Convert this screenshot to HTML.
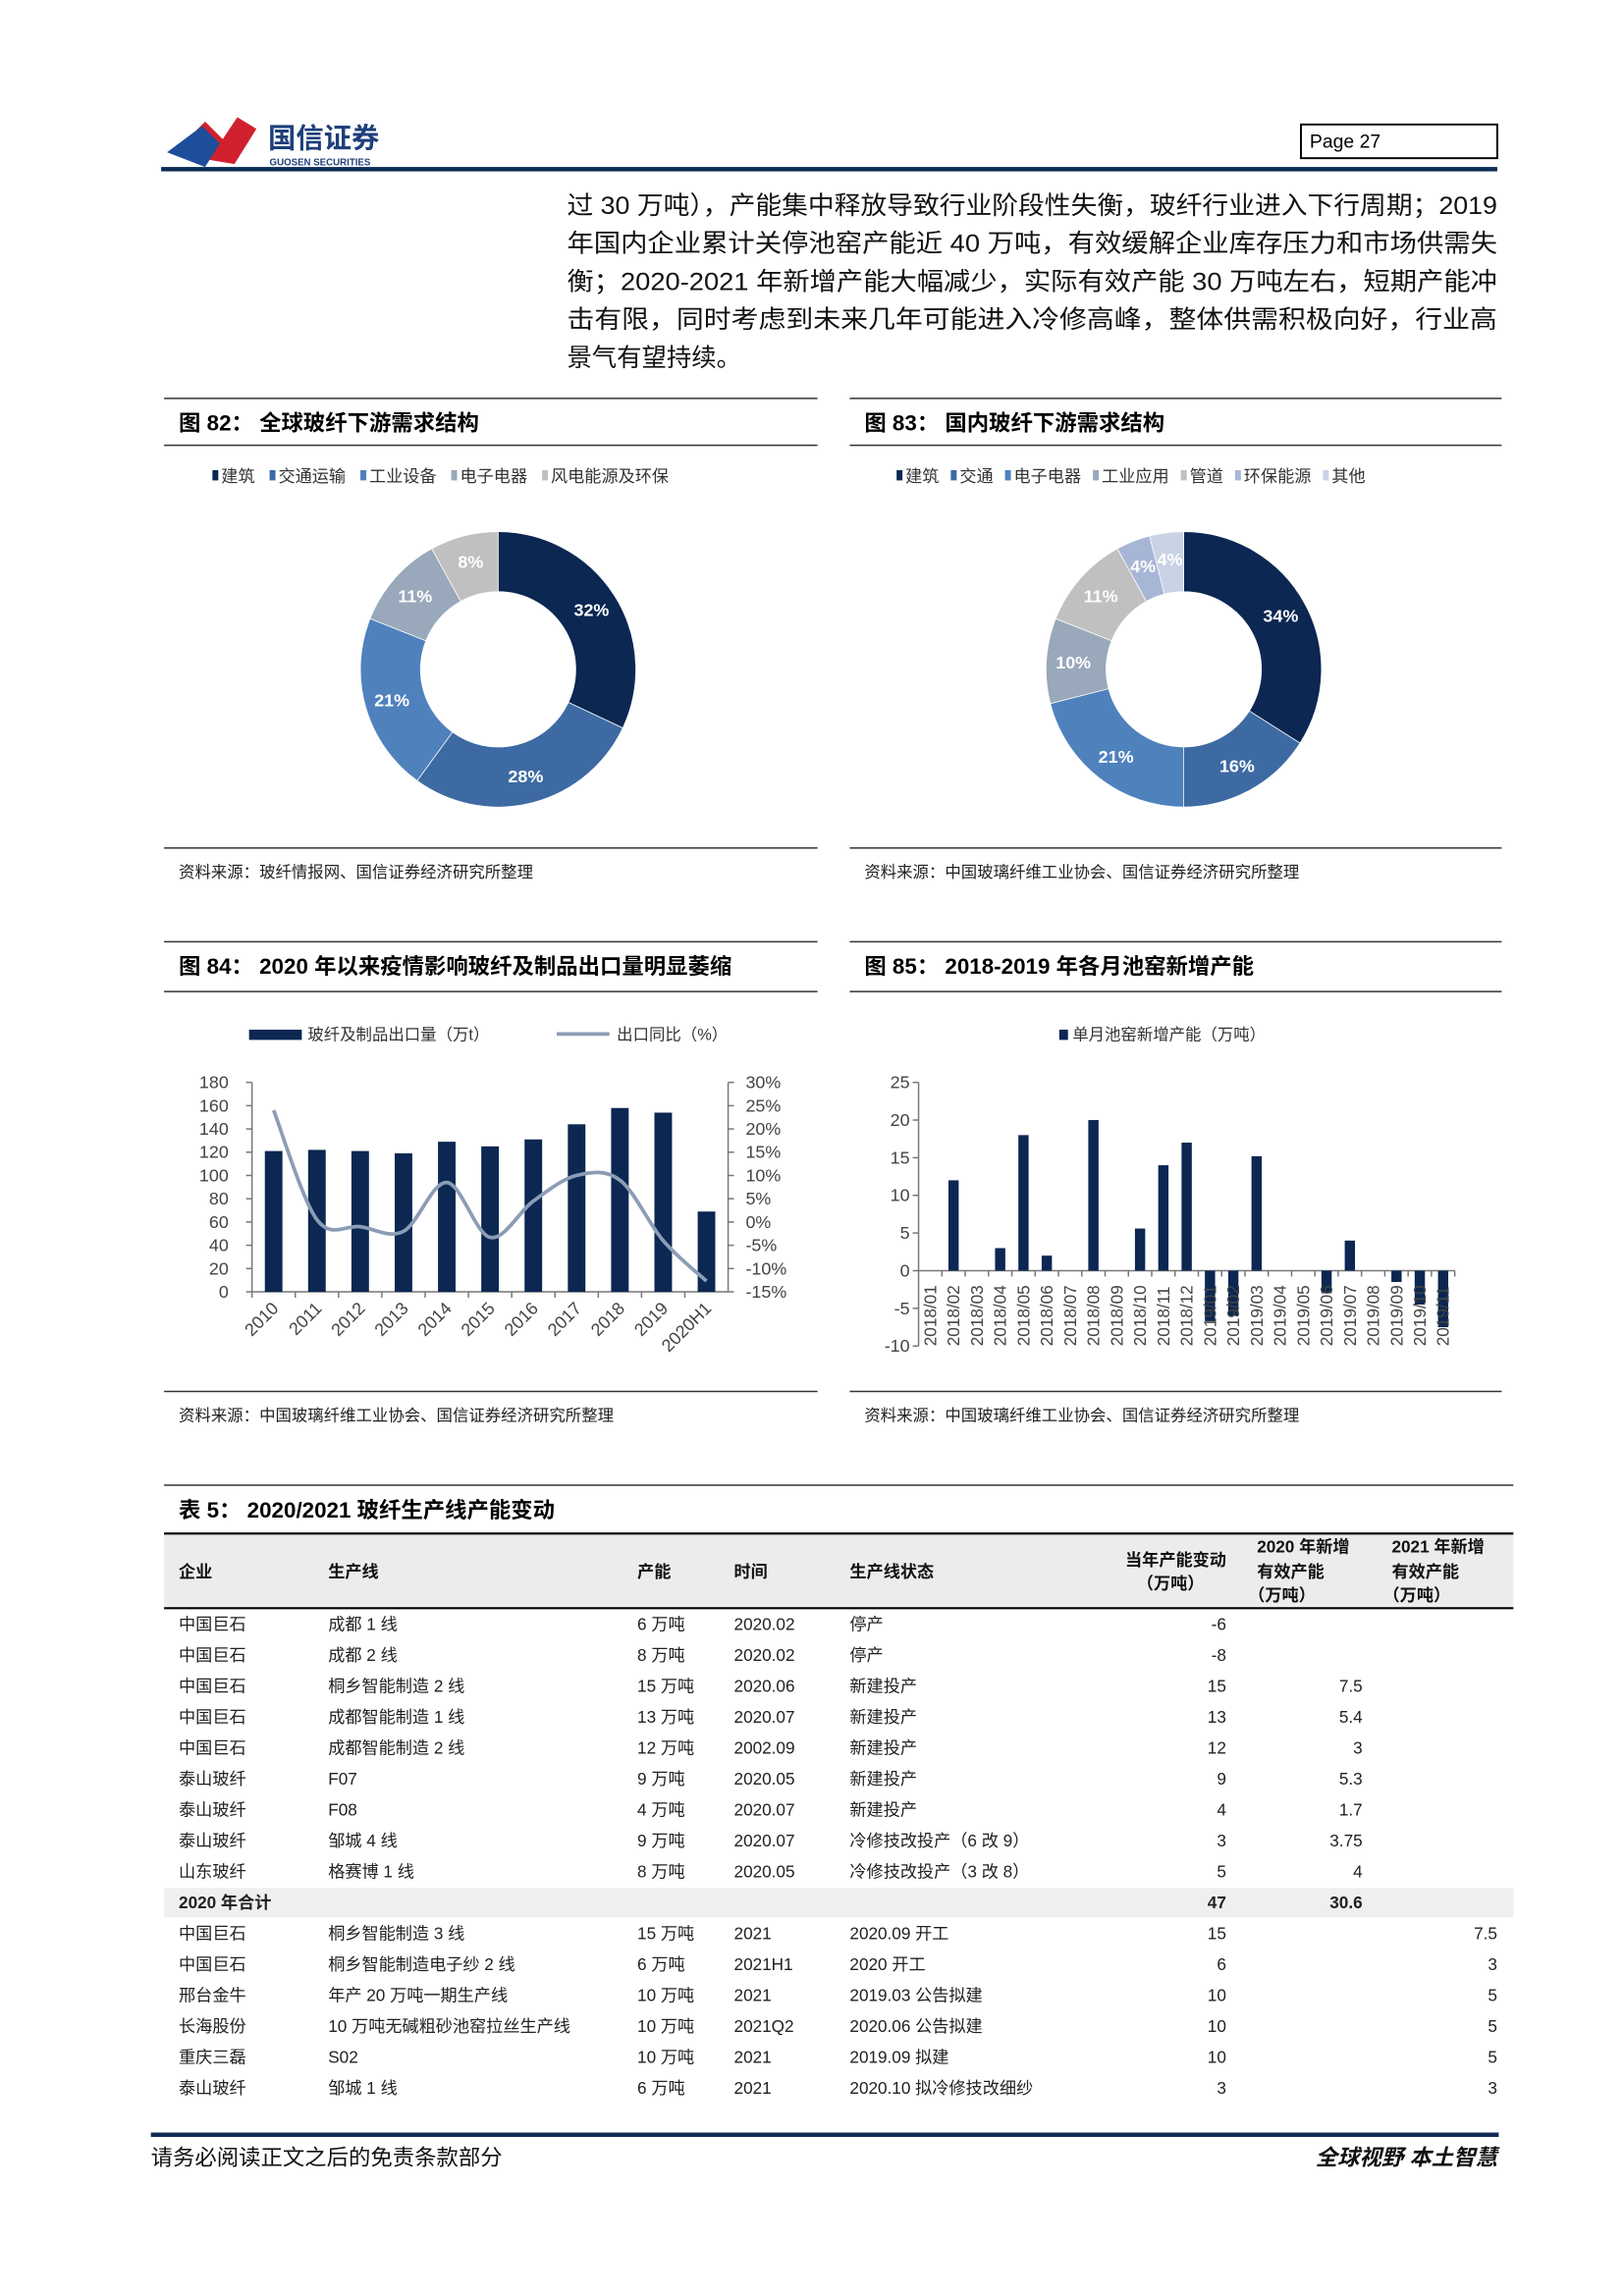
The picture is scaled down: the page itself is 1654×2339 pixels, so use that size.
<!DOCTYPE html>
<html><head><meta charset="utf-8">
<style>
html,body{margin:0;padding:0;background:#fff;}
svg{display:block;}
text{font-family:"Liberation Sans","Noto Sans CJK SC",sans-serif;}
</style></head>
<body>
<svg id="pg" width="1654" height="2339" viewBox="0 0 1108.5 1567.6" xmlns="http://www.w3.org/2000/svg">
<g>
  <path d="M118 105 L140 83 L152 95 L162 80 L175 88 L160 112 Z" fill="#d0202e"/>
  <path d="M114 104 L138 86 L150 98 L140 114 Z" fill="#1e4e9a"/>
  <text x="183" y="101" font-size="19" font-weight="bold" fill="#1e3f7a">国信证券</text>
  <text x="184" y="113" font-size="6.5" font-weight="bold" fill="#1e3f7a">GUOSEN SECURITIES</text>
  <rect x="110" y="114" width="912" height="3" fill="#0d2b55"/>
  <rect x="888" y="85" width="134" height="23" fill="none" stroke="#000" stroke-width="1.3"/>
  <text x="894" y="101" font-size="13" fill="#000">Page  27</text>
</g>
<g font-size="17" fill="#111">
  <text x="387" y="146" textLength="635" lengthAdjust="spacingAndGlyphs">过 30 万吨），产能集中释放导致行业阶段性失衡，玻纤行业进入下行周期；2019</text>
  <text x="387" y="172" textLength="635" lengthAdjust="spacingAndGlyphs">年国内企业累计关停池窑产能近 40 万吨，有效缓解企业库存压力和市场供需失</text>
  <text x="387" y="198" textLength="635" lengthAdjust="spacingAndGlyphs">衡；2020-2021 年新增产能大幅减少，实际有效产能 30 万吨左右，短期产能冲</text>
  <text x="387" y="224" textLength="635" lengthAdjust="spacingAndGlyphs">击有限，同时考虑到未来几年可能进入冷修高峰，整体供需积极向好，行业高</text>
  <text x="387" y="250">景气有望持续。</text>
</g>

<g stroke="#333" stroke-width="1">
  <line x1="112" y1="272" x2="558" y2="272"/><line x1="112" y1="304" x2="558" y2="304"/><line x1="112" y1="579" x2="558" y2="579"/>
  <line x1="580" y1="272" x2="1025" y2="272"/><line x1="580" y1="304" x2="1025" y2="304"/><line x1="580" y1="579" x2="1025" y2="579"/>
  <line x1="112" y1="643" x2="558" y2="643"/><line x1="112" y1="677" x2="558" y2="677"/><line x1="112" y1="950" x2="558" y2="950"/>
  <line x1="580" y1="643" x2="1025" y2="643"/><line x1="580" y1="677" x2="1025" y2="677"/><line x1="580" y1="950" x2="1025" y2="950"/>
</g>
<text x="122" y="294" font-size="15" font-weight="bold">图 82：  全球玻纤下游需求结构</text>
<text x="590" y="294" font-size="15" font-weight="bold">图 83：  国内玻纤下游需求结构</text>
<text x="122" y="665" font-size="15" font-weight="bold">图 84：  2020 年以来疫情影响玻纤及制品出口量明显萎缩</text>
<text x="590" y="665" font-size="15" font-weight="bold">图 85：  2018-2019 年各月池窑新增产能</text>
<text x="122" y="599" font-size="11" fill="#222">资料来源：玻纤情报网、国信证券经济研究所整理</text>
<text x="590" y="599" font-size="11" fill="#222">资料来源：中国玻璃纤维工业协会、国信证券经济研究所整理</text>
<text x="122" y="970" font-size="11" fill="#222">资料来源：中国玻璃纤维工业协会、国信证券经济研究所整理</text>
<text x="590" y="970" font-size="11" fill="#222">资料来源：中国玻璃纤维工业协会、国信证券经济研究所整理</text>

<g id="d82"></g>
<g id="d83"></g>
<g id="c84"></g>
<g id="c85"></g>

<line x1="112" y1="1014" x2="1033" y2="1014" stroke="#333" stroke-width="1"/>
<text x="122" y="1036" font-size="15" font-weight="bold">表 5：  2020/2021 玻纤生产线产能变动</text>
<g id="tbl"></g>

<g>
  <rect x="103" y="1456" width="920" height="3" fill="#0d2b55"/>
  <text x="103" y="1478" font-size="15" fill="#111">请务必阅读正文之后的免责条款部分</text>
  <text x="1022" y="1478" font-size="15" font-weight="bold" font-style="italic" text-anchor="end" fill="#111">全球视野  本土智慧</text>
</g>
</svg>
<script>
// ---- data ----
const d82Labels = ['建筑','交通运输','工业设备','电子电器','风电能源及环保'];
const d82Values = [32,28,21,11,8];
const d83Labels = ['建筑','交通','电子电器','工业应用','管道','环保能源','其他'];
const d83Values = [34,16,21,10,11,4,4];
const c84Cats = ['2010','2011','2012','2013','2014','2015','2016','2017','2018','2019','2020H1'];
const c84Bars = [121,122,121,119,129,125,131,144,158,154,69];
const c84Line = [24,0.5,-1,-2,8.5,-3.3,4.5,10,9,-4,-12.7];
const c84LeftTicks = [0,20,40,60,80,100,120,140,160,180];
const c84RightTicks = [-15,-10,-5,0,5,10,15,20,25,30];
const c85Cats = ['2018/01','2018/02','2018/03','2018/04','2018/05','2018/06','2018/07','2018/08','2018/09','2018/10','2018/11','2018/12','2019/01','2019/02','2019/03','2019/04','2019/05','2019/06','2019/07','2019/08','2019/09','2019/10','2019/11'];
const c85Values = [0,12,0,3,18,2,0,20,0,5.6,14,17,-6.7,-6,15.2,0,0,-3,4,0,-1.5,-4.5,-7.5];
const c85Ticks = [-10,-5,0,5,10,15,20,25];

const NS='http://www.w3.org/2000/svg';
function mk(tag,attrs,parent,txt){const e=document.createElementNS(NS,tag);for(const k in attrs)e.setAttribute(k,attrs[k]);if(txt!==undefined)e.textContent=txt;parent.appendChild(e);return e;}

function donut(gid,labels,values,colors,cx,cy,legX,legGap){
  const g=document.getElementById(gid);
  const R=94,r=53;const tot=values.reduce((a,b)=>a+b,0);let a0=-Math.PI/2;
  let lx=legX;
  labels.forEach((lab,i)=>{
    const sw=mk('rect',{x:lx,y:321,width:4,height:7,fill:colors[i]},g);
    
    
    const t=mk('text',{x:lx+6,y:329,'font-size':11.5,fill:'#333'},g,lab);
    
    
    lx+=6+lab.length*11.5+legGap;
  });
  values.forEach((v,i)=>{
    const a1=a0+v/tot*2*Math.PI;const lg=(a1-a0)>Math.PI?1:0;
    const p=[cx+R*Math.cos(a0),cy+R*Math.sin(a0),cx+R*Math.cos(a1),cy+R*Math.sin(a1),cx+r*Math.cos(a1),cy+r*Math.sin(a1),cx+r*Math.cos(a0),cy+r*Math.sin(a0)];
    const s=mk('path',{d:`M${p[0]} ${p[1]}A${R} ${R} 0 ${lg} 1 ${p[2]} ${p[3]}L${p[4]} ${p[5]}A${r} ${r} 0 ${lg} 0 ${p[6]} ${p[7]}Z`,fill:colors[i],stroke:'#fff','stroke-width':0.5},g);
    
    
    const am=(a0+a1)/2,rm=(R+r)/2+2;
    const t=mk('text',{x:cx+rm*Math.cos(am),y:cy+rm*Math.sin(am)+4,'font-size':12,'font-weight':'bold',fill:'#fff','text-anchor':'middle'},g,v+'%');
    
    
    a0=a1;
  });
}
donut('d82',d82Labels,d82Values,['#0b2752','#3d6aa3','#4f81bd','#99a8ba','#c0c0c0'],340,457,145,10);
donut('d83',d83Labels,d83Values,['#0b2752','#3d6aa3','#4f81bd','#99a8ba','#c0c0c0','#a8b6d6','#c9d3e6'],808,457,612,8);

// ---- chart 84 ----
(function(){
  const g=document.getElementById('c84');
  const L=172,Rr=497,T=739,B=882;
  const yL=v=>B-(v/180)*(B-T), yR=v=>B-((v+15)/45)*(B-T);
  const bw=(Rr-L)/c84Cats.length, xc=i=>L+bw*(i+0.5);
  const ls=mk('rect',{x:170,y:703,width:36,height:7,fill:'#0b2752'},g);
  
  
  mk('text',{x:210,y:710,'font-size':11,fill:'#333'},g,'玻纤及制品出口量（万t）');
  const ll=mk('line',{x1:380,y1:706,x2:416,y2:706,stroke:'#8b9db5','stroke-width':2.5},g);
  
  
  mk('text',{x:421,y:710,'font-size':11,fill:'#333'},g,'出口同比（%）');
  mk('line',{x1:L,y1:T,x2:L,y2:B,stroke:'#777'},g);
  mk('line',{x1:Rr,y1:T,x2:Rr,y2:B,stroke:'#777'},g);
  mk('line',{x1:L,y1:B,x2:Rr,y2:B,stroke:'#777'},g);
  c84LeftTicks.forEach(v=>{mk('line',{x1:L-4,y1:yL(v),x2:L,y2:yL(v),stroke:'#777'},g);
    const t=mk('text',{x:L-16,y:yL(v)+4,'font-size':12,fill:'#444','text-anchor':'end'},g,v);
    
    });
  c84RightTicks.forEach(v=>{mk('line',{x1:Rr,y1:yR(v),x2:Rr+4,y2:yR(v),stroke:'#777'},g);
    const t=mk('text',{x:Rr+12,y:yR(v)+4,'font-size':12,fill:'#444'},g,v+'%');
    
    });
  c84Cats.forEach((c,i)=>{
    mk('line',{x1:L+bw*i,y1:B,x2:L+bw*i,y2:B+4,stroke:'#777'},g);
    const b=mk('rect',{x:xc(i)-6,y:yL(c84Bars[i]),width:12,height:B-yL(c84Bars[i]),fill:'#0b2752'},g);
    
    
    const t=mk('text',{x:xc(i)+4,y:B+12,'font-size':12,fill:'#444','text-anchor':'end',transform:`rotate(-45 ${xc(i)+4} ${B+12})`},g,c);
    
    
  });
  const pts=c84Line.map((v,i)=>[xc(i),yR(v)]);
  let d=`M${pts[0][0]} ${pts[0][1]}`;
  for(let i=0;i<pts.length-1;i++){const p0=pts[i-1]||pts[i],p1=pts[i],p2=pts[i+1],p3=pts[i+2]||p2;
    d+=`C${p1[0]+(p2[0]-p0[0])/6} ${p1[1]+(p2[1]-p0[1])/6} ${p2[0]-(p3[0]-p1[0])/6} ${p2[1]-(p3[1]-p1[1])/6} ${p2[0]} ${p2[1]}`;}
  const ln=mk('path',{d:d,fill:'none',stroke:'#8b9db5','stroke-width':2.5},g);
  
  
})();

// ---- chart 85 ----
(function(){
  const g=document.getElementById('c85');
  const L=627,Rr=993,T=739,B=919;
  const y=v=>B-((v+10)/35)*(B-T);
  const bw=(Rr-L)/c85Cats.length, xc=i=>L+bw*(i+0.5);
  const ls=mk('rect',{x:723,y:703,width:6,height:7,fill:'#0b2752'},g);
  
  
  mk('text',{x:732,y:710,'font-size':11,fill:'#333'},g,'单月池窑新增产能（万吨）');
  mk('line',{x1:L,y1:T,x2:L,y2:B,stroke:'#777'},g);
  mk('line',{x1:L,y1:y(0),x2:Rr,y2:y(0),stroke:'#777'},g);
  c85Ticks.forEach(v=>{mk('line',{x1:L-4,y1:y(v),x2:L,y2:y(v),stroke:'#777'},g);
    const t=mk('text',{x:L-6,y:y(v)+4,'font-size':12,fill:'#444','text-anchor':'end'},g,v);
    
    });
  c85Cats.forEach((c,i)=>{
    mk('line',{x1:L+bw*(i+1),y1:y(0),x2:L+bw*(i+1),y2:y(0)+4,stroke:'#777'},g);
    const v=c85Values[i];
    const b=mk('rect',{x:xc(i)-3.5,y:Math.min(y(v),y(0)),width:7,height:Math.abs(y(v)-y(0)),fill:'#0b2752'},g);
    
    
    const t=mk('text',{x:xc(i)+4,y:B,'font-size':11.5,fill:'#444',transform:`rotate(-90 ${xc(i)+4} ${B})`},g,c);
    
    
  });
})();

// ---- table ----
const tblRows = [
 ['中国巨石','成都 1 线','6 万吨','2020.02','停产','-6','',''],
 ['中国巨石','成都 2 线','8 万吨','2020.02','停产','-8','',''],
 ['中国巨石','桐乡智能制造 2 线','15 万吨','2020.06','新建投产','15','7.5',''],
 ['中国巨石','成都智能制造 1 线','13 万吨','2020.07','新建投产','13','5.4',''],
 ['中国巨石','成都智能制造 2 线','12 万吨','2002.09','新建投产','12','3',''],
 ['泰山玻纤','F07','9 万吨','2020.05','新建投产','9','5.3',''],
 ['泰山玻纤','F08','4 万吨','2020.07','新建投产','4','1.7',''],
 ['泰山玻纤','邹城 4 线','9 万吨','2020.07','冷修技改投产（6 改 9）','3','3.75',''],
 ['山东玻纤','格赛博 1 线','8 万吨','2020.05','冷修技改投产（3 改 8）','5','4',''],
 ['2020 年合计','','','','','47','30.6',''],
 ['中国巨石','桐乡智能制造 3 线','15 万吨','2021','2020.09 开工','15','','7.5'],
 ['中国巨石','桐乡智能制造电子纱 2 线','6 万吨','2021H1','2020 开工','6','','3'],
 ['邢台金牛','年产 20 万吨一期生产线','10 万吨','2021','2019.03 公告拟建','10','','5'],
 ['长海股份','10 万吨无碱粗砂池窑拉丝生产线','10 万吨','2021Q2','2020.06 公告拟建','10','','5'],
 ['重庆三磊','S02','10 万吨','2021','2019.09 拟建','10','','5'],
 ['泰山玻纤','邹城 1 线','6 万吨','2021','2020.10 拟冷修技改细纱','3','','3']
];
(function(){
  const g=document.getElementById('tbl');
  const colX=[122,224,435,501,580,837,930,1022];
  mk('rect',{x:112,y:1047,width:921,height:51,fill:'#ececec'},g);
  mk('line',{x1:112,y1:1047,x2:1033,y2:1047,stroke:'#000','stroke-width':1.5},g);
  mk('line',{x1:112,y1:1098,x2:1033,y2:1098,stroke:'#000','stroke-width':1.5},g);
  const hs={'font-size':11.5,'font-weight':'bold',fill:'#111'};
  [['企业',122],['生产线',224],['产能',435],['时间',501],['生产线状态',580]].forEach(h=>{
    const t=mk('text',Object.assign({x:h[1],y:1077},hs),g,h[0]);
    
    });
  mk('text',Object.assign({x:837,y:1069,'text-anchor':'end'},hs),g,'当年产能变动');
  mk('text',Object.assign({x:776,y:1085},hs),g,'（万吨）');
  [[858,'2020 年新增'],[950,'2021 年新增']].forEach(h=>{
    mk('text',Object.assign({x:h[0],y:1060},hs),g,h[1]);
    mk('text',Object.assign({x:h[0],y:1077},hs),g,'有效产能');
    mk('text',Object.assign({x:h[0]-6,y:1093},hs),g,'（万吨）');
  });
  tblRows.forEach((row,ri)=>{
    const yy=1113+ri*21.1;
    const total=row[0]==='2020 年合计';
    if(total){const bg=mk('rect',{x:112,y:yy-14,width:921,height:20,fill:'#efefef'},g);
      
      }
    row.forEach((c,ci)=>{
      if(!c)return;
      const a={x:colX[ci],y:yy,'font-size':11.5,fill:'#222'};
      if(ci>=5)a['text-anchor']='end';
      if(total)a['font-weight']='bold';
      const t=mk('text',a,g,c);
      
      
    });
  });
})();
</script>
</body></html>
